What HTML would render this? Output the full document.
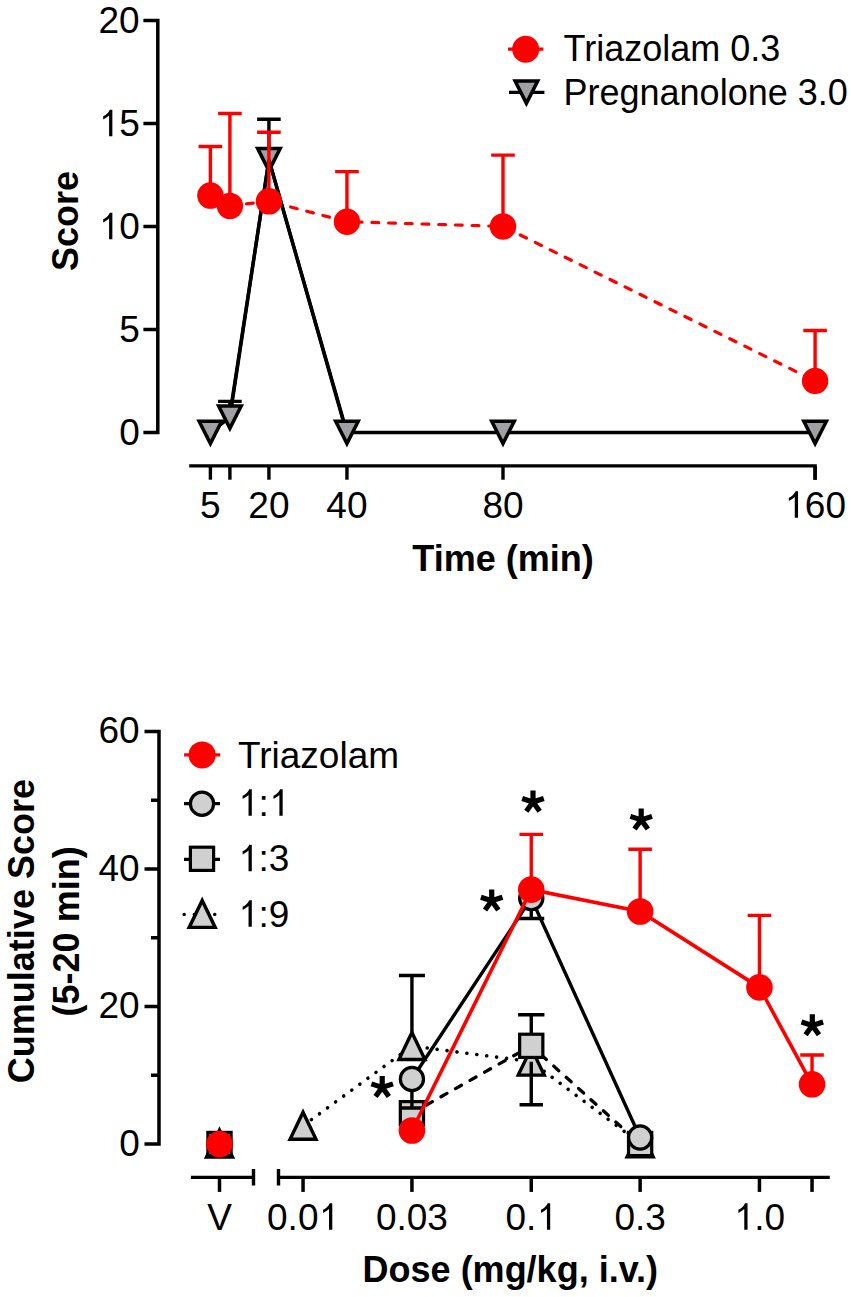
<!DOCTYPE html>
<html><head><meta charset="utf-8"><style>html,body{margin:0;padding:0;background:#fff;}svg{display:block;}</style></head>
<body>
<svg width="851" height="1297" viewBox="0 0 851 1297">
<rect width="851" height="1297" fill="#fff"/>
<path d="M143.4 20.399999999999977H157.8V432.5H143.4M143.4 123.42500000000001H157.8M143.4 226.45H157.8M143.4 329.475H157.8" fill="none" stroke="#000" stroke-width="3.5"/>
<text x="98.56" y="33.199999999999974" font-family="Liberation Sans, sans-serif" font-size="37">20</text>
<text x="98.56" y="136.22500000000002" font-family="Liberation Sans, sans-serif" font-size="37"><tspan fill="transparent">1</tspan>5</text><path d="M112.36 136.23H109.10V115.51C107.99 116.54 106.51 117.54 104.85 118.47C104.29 118.80 103.74 119.13 103.18 119.39V116.25C105.96 114.95 108.36 113.10 109.84 109.73H112.36Z" fill="#000"/>
<text x="98.56" y="239.25" font-family="Liberation Sans, sans-serif" font-size="37"><tspan fill="transparent">1</tspan>0</text><path d="M112.36 239.25H109.10V218.53C107.99 219.57 106.51 220.56 104.85 221.49C104.29 221.82 103.74 222.16 103.18 222.41V219.27C105.96 217.97 108.36 216.12 109.84 212.76H112.36Z" fill="#000"/>
<text x="119.13" y="342.27500000000003" font-family="Liberation Sans, sans-serif" font-size="37">5</text>
<text x="119.13" y="445.3" font-family="Liberation Sans, sans-serif" font-size="37">0</text>
<path d="M189.2 465.9H815.098V479.7" fill="none" stroke="#000" stroke-width="3.4"/>
<path d="M210.39649999999997 465.9V479.7" stroke="#000" stroke-width="3.4"/>
<path d="M229.903 465.9V479.7" stroke="#000" stroke-width="3.4"/>
<path d="M268.916 465.9V479.7" stroke="#000" stroke-width="3.4"/>
<path d="M346.942 465.9V479.7" stroke="#000" stroke-width="3.4"/>
<path d="M502.99399999999997 465.9V479.7" stroke="#000" stroke-width="3.4"/>
<path d="M815.098 465.9V479.7" stroke="#000" stroke-width="3.4"/>
<text x="200.11" y="517.8" font-family="Liberation Sans, sans-serif" font-size="37">5</text>
<text x="248.34" y="517.8" font-family="Liberation Sans, sans-serif" font-size="37">20</text>
<text x="326.37" y="517.8" font-family="Liberation Sans, sans-serif" font-size="37">40</text>
<text x="482.42" y="517.8" font-family="Liberation Sans, sans-serif" font-size="37">80</text>
<text x="784.24" y="517.8" font-family="Liberation Sans, sans-serif" font-size="37"><tspan fill="transparent">1</tspan>60</text><path d="M798.04 517.80H794.78V497.08C793.67 498.12 792.20 499.11 790.53 500.04C789.98 500.37 789.42 500.71 788.87 500.96V497.82C791.64 496.52 794.04 494.67 795.52 491.31H798.04Z" fill="#000"/>
<text x="503" y="570.5" font-family="Liberation Sans, sans-serif" font-size="36" font-weight="bold" text-anchor="middle">Time (min)</text>
<text transform="translate(78,221) rotate(-90)" font-family="Liberation Sans, sans-serif" font-size="36" font-weight="bold" text-anchor="middle">Score</text>
<polyline points="210.39649999999997,432.5 229.903,417.2523 268.916,159.6898 346.942,432.5 502.99399999999997,432.5 815.098,432.5" fill="none" stroke="#000" stroke-width="3.4"/>
<path d="M229.903 417.2523V401.38645M218.10299999999998 401.38645H241.703" stroke="#000" stroke-width="3.4"/>
<path d="M268.916 159.6898V119.30400000000003M257.116 119.30400000000003H280.716" stroke="#000" stroke-width="3.4"/>
<path d="M199.09649999999996 421.2H221.6965L210.39649999999997 443.6Z" fill="#a0a0a4" stroke="#000" stroke-width="3.5" stroke-linejoin="miter"/>
<path d="M218.60299999999998 405.9523H241.203L229.903 428.3523Z" fill="#a0a0a4" stroke="#000" stroke-width="3.5" stroke-linejoin="miter"/>
<path d="M257.616 148.38979999999998H280.216L268.916 170.78979999999999Z" fill="#a0a0a4" stroke="#000" stroke-width="3.5" stroke-linejoin="miter"/>
<path d="M335.642 421.2H358.242L346.942 443.6Z" fill="#a0a0a4" stroke="#000" stroke-width="3.5" stroke-linejoin="miter"/>
<path d="M491.69399999999996 421.2H514.294L502.99399999999997 443.6Z" fill="#a0a0a4" stroke="#000" stroke-width="3.5" stroke-linejoin="miter"/>
<path d="M803.798 421.2H826.3979999999999L815.098 443.6Z" fill="#a0a0a4" stroke="#000" stroke-width="3.5" stroke-linejoin="miter"/>
<polyline points="231.5,404 268.916,159.6898 342.7,419" fill="none" stroke="#000" stroke-width="3.4"/>
<path d="M210.40 195.54L229.90 205.84" fill="none" stroke="#ff0000" stroke-width="3.2" stroke-linecap="round" stroke-dasharray="6.8 9.9" stroke-dashoffset="0"/>
<path d="M229.90 205.84L268.92 201.31" fill="none" stroke="#ff0000" stroke-width="3.2" stroke-linecap="round" stroke-dasharray="6.8 9.9" stroke-dashoffset="0"/>
<path d="M268.92 201.31L346.94 221.71" fill="none" stroke="#ff0000" stroke-width="3.2" stroke-linecap="round" stroke-dasharray="6.8 9.9" stroke-dashoffset="11.0"/>
<path d="M346.94 221.71L502.99 226.45" fill="none" stroke="#ff0000" stroke-width="3.2" stroke-linecap="round" stroke-dasharray="6.8 9.9" stroke-dashoffset="8.4"/>
<path d="M502.99 226.45L815.10 380.99" fill="none" stroke="#ff0000" stroke-width="3.2" stroke-linecap="round" stroke-dasharray="6.8 9.9" stroke-dashoffset="14.1"/>
<path d="M210.39649999999997 195.5425V146.50259999999997M198.59649999999996 146.50259999999997H222.1965" stroke="#ff0000" stroke-width="3.4"/>
<path d="M229.903 205.845V113.53460000000001M218.10299999999998 113.53460000000001H241.703" stroke="#ff0000" stroke-width="3.4"/>
<path d="M268.916 201.31189999999998V132.28515M257.116 132.28515H280.716" stroke="#ff0000" stroke-width="3.4"/>
<path d="M346.942 221.71085V171.64069999999998M335.142 171.64069999999998H358.742" stroke="#ff0000" stroke-width="3.4"/>
<path d="M502.99399999999997 226.45V155.1567M491.19399999999996 155.1567H514.794" stroke="#ff0000" stroke-width="3.4"/>
<path d="M815.098 380.9875V330.50525M803.298 330.50525H826.8979999999999" stroke="#ff0000" stroke-width="3.4"/>
<circle cx="210.39649999999997" cy="195.5425" r="13.2" fill="#ff0000"/>
<circle cx="229.903" cy="205.845" r="13.2" fill="#ff0000"/>
<circle cx="268.916" cy="201.31189999999998" r="13.2" fill="#ff0000"/>
<circle cx="346.942" cy="221.71085" r="13.2" fill="#ff0000"/>
<circle cx="502.99399999999997" cy="226.45" r="13.2" fill="#ff0000"/>
<circle cx="815.098" cy="380.9875" r="13.2" fill="#ff0000"/>
<path d="M508 49.2H543.4" stroke="#ff0000" stroke-width="3.2"/><circle cx="525.7" cy="49.2" r="13.5" fill="#ff0000"/>
<path d="M509 92.3H544.4" stroke="#000" stroke-width="3.2"/><path d="M515.1 80.95H537.6999999999999L526.4 103.35Z" fill="#a0a0a4" stroke="#000" stroke-width="3.5" stroke-linejoin="miter"/>
<text x="563.5" y="61.2" font-family="Liberation Sans, sans-serif" font-size="36">Triazolam 0.3</text>
<text x="563.5" y="104.6" font-family="Liberation Sans, sans-serif" font-size="36">Pregnanolone 3.0</text>
<path d="M144.5 731.5H159V1144.0H144.5M144.5 869.0H159M144.5 1006.5H159M151 800.25H159M151 937.75H159M151 1075.25H159" fill="none" stroke="#000" stroke-width="3.5"/>
<text x="98.56" y="743.3" font-family="Liberation Sans, sans-serif" font-size="37">60</text>
<text x="98.56" y="880.8" font-family="Liberation Sans, sans-serif" font-size="37">40</text>
<text x="98.56" y="1018.3" font-family="Liberation Sans, sans-serif" font-size="37">20</text>
<text x="119.13" y="1155.8" font-family="Liberation Sans, sans-serif" font-size="37">0</text>
<path d="M190.9 1177.4H253.5M253.5 1169.1V1185.6M278.5 1169.1V1185.6M278.5 1177.4H829.8" fill="none" stroke="#000" stroke-width="3.4"/>
<path d="M219.5 1177.4V1191.9" stroke="#000" stroke-width="3.5"/>
<path d="M303.05000000000007 1177.4V1191.9" stroke="#000" stroke-width="3.5"/>
<path d="M411.92907032702703 1177.4V1191.9" stroke="#000" stroke-width="3.5"/>
<path d="M531.25 1177.4V1191.9" stroke="#000" stroke-width="3.5"/>
<path d="M640.129070327027 1177.4V1191.9" stroke="#000" stroke-width="3.5"/>
<path d="M759.45 1177.4V1191.9" stroke="#000" stroke-width="3.5"/>
<path d="M812.0384438585221 1177.4V1191.9" stroke="#000" stroke-width="3.5"/>
<text x="207.16" y="1229.8" font-family="Liberation Sans, sans-serif" font-size="37">V</text>
<text x="267.05" y="1229.8" font-family="Liberation Sans, sans-serif" font-size="37">0.0<tspan fill="transparent">1</tspan></text><path d="M332.28 1229.80H329.02V1209.08C327.91 1210.12 326.43 1211.12 324.77 1212.04C324.21 1212.37 323.66 1212.71 323.10 1212.96V1209.82C325.88 1208.52 328.28 1206.67 329.76 1203.31H332.28Z" fill="#000"/>
<text x="375.93" y="1229.8" font-family="Liberation Sans, sans-serif" font-size="37">0.03</text>
<text x="505.53" y="1229.8" font-family="Liberation Sans, sans-serif" font-size="37">0.<tspan fill="transparent">1</tspan></text><path d="M550.19 1229.80H546.94V1209.08C545.83 1210.12 544.35 1211.12 542.68 1212.04C542.13 1212.37 541.57 1212.71 541.02 1212.96V1209.82C543.79 1208.52 546.20 1206.67 547.68 1203.31H550.19Z" fill="#000"/>
<text x="614.41" y="1229.8" font-family="Liberation Sans, sans-serif" font-size="37">0.3</text>
<text x="733.74" y="1229.8" font-family="Liberation Sans, sans-serif" font-size="37"><tspan fill="transparent">1</tspan>.0</text><path d="M747.54 1229.80H744.28V1209.08C743.17 1210.12 741.69 1211.12 740.02 1212.04C739.47 1212.37 738.91 1212.71 738.36 1212.96V1209.82C741.13 1208.52 743.54 1206.67 745.02 1203.31H747.54Z" fill="#000"/>
<text x="510.3" y="1282" font-family="Liberation Sans, sans-serif" font-size="36" font-weight="bold" text-anchor="middle">Dose (mg/kg, i.v.)</text>
<text transform="translate(33.9,931.1) rotate(-90)" font-family="Liberation Sans, sans-serif" font-size="36" font-weight="bold" text-anchor="middle">Cumulative Score</text>
<text transform="translate(79,931.4) rotate(-90)" font-family="Liberation Sans, sans-serif" font-size="36" font-weight="bold" text-anchor="middle">(5-20 min)</text>
<path d="M303.05 1125.78L411.93 1046.03" fill="none" stroke="#000" stroke-width="3.6" stroke-dasharray="0.01 9.99" stroke-linecap="round" stroke-dashoffset="9.6"/><path d="M411.93 1046.03L531.25 1061.64" fill="none" stroke="#000" stroke-width="3.6" stroke-dasharray="0.01 9.99" stroke-linecap="round" stroke-dashoffset="4.6"/><path d="M531.25 1061.64L640.13 1143.31" fill="none" stroke="#000" stroke-width="3.6" stroke-dasharray="0.01 9.99" stroke-linecap="round" stroke-dashoffset="3.9"/>
<path d="M411.93 1113.20L531.25 1045.83" fill="none" stroke="#000" stroke-width="3.3" stroke-dasharray="6.8 9.9" stroke-linecap="round" stroke-dashoffset="0"/><path d="M531.25 1045.83L640.13 1144.00" fill="none" stroke="#000" stroke-width="3.3" stroke-dasharray="6.8 9.9" stroke-linecap="round" stroke-dashoffset="3.11"/>
<polyline points="411.92907032702703,1079.03125 531.25,898.2875 640.129070327027,1137.46875" fill="none" stroke="#000" stroke-width="3.4"/>
<path d="M411.92907032702703 1046.03125V975.425M398.92907032702703 975.425H424.92907032702703" stroke="#000" stroke-width="3.4"/>
<path d="M219.5 1130.15625L232.5 1157.15625H206.5Z" fill="#d0d0d0" stroke="#000" stroke-width="3.4" stroke-linejoin="miter" stroke-miterlimit="3"/>
<path d="M303.05000000000007 1112.28125L316.05000000000007 1139.28125H290.05000000000007Z" fill="#d0d0d0" stroke="#000" stroke-width="3.4" stroke-linejoin="miter" stroke-miterlimit="3"/>
<path d="M411.92907032702703 1032.53125L424.92907032702703 1059.53125H398.92907032702703Z" fill="#d0d0d0" stroke="#000" stroke-width="3.4" stroke-linejoin="miter" stroke-miterlimit="3"/>
<path d="M531.25 1048.1375L544.25 1075.1375H518.25Z" fill="#d0d0d0" stroke="#000" stroke-width="3.4" stroke-linejoin="miter" stroke-miterlimit="3"/>
<path d="M640.129070327027 1129.8125L653.129070327027 1156.8125H627.129070327027Z" fill="#d0d0d0" stroke="#000" stroke-width="3.4" stroke-linejoin="miter" stroke-miterlimit="3"/>
<path d="M531.25 1061.6375V1104.675M519.55 1104.675H542.95" stroke="#000" stroke-width="3.4"/>
<path d="M531.25 1045.825V1014.81875M518.05 1014.81875H544.45" stroke="#000" stroke-width="3.4"/>
<rect x="207.9" y="1132.4" width="23.2" height="23.2" fill="#d0d0d0" stroke="#000" stroke-width="3.2"/>
<rect x="400.329070327027" y="1101.6000000000001" width="23.2" height="23.2" fill="#d0d0d0" stroke="#000" stroke-width="3.2"/>
<rect x="519.65" y="1034.2250000000001" width="23.2" height="23.2" fill="#d0d0d0" stroke="#000" stroke-width="3.2"/>
<rect x="628.529070327027" y="1132.4" width="23.2" height="23.2" fill="#d0d0d0" stroke="#000" stroke-width="3.2"/>
<path d="M411.92907032702703 1079.03125V1107.975M398.92907032702703 1107.975H424.92907032702703" stroke="#000" stroke-width="3.4"/>
<path d="M531.25 898.2875V918.5M518.25 918.5H544.25" stroke="#000" stroke-width="3.4"/>
<circle cx="219.5" cy="1144.0" r="11.6" fill="#d0d0d0" stroke="#000" stroke-width="3.2"/>
<circle cx="411.92907032702703" cy="1079.03125" r="11.6" fill="#d0d0d0" stroke="#000" stroke-width="3.2"/>
<circle cx="531.25" cy="898.2875" r="11.6" fill="#d0d0d0" stroke="#000" stroke-width="3.2"/>
<circle cx="640.129070327027" cy="1137.46875" r="11.6" fill="#d0d0d0" stroke="#000" stroke-width="3.2"/>
<polyline points="411.92907032702703,1130.525 531.25,889.625 640.129070327027,911.4875 759.45,987.3875 812.0384438585221,1084.325" fill="none" stroke="#ff0000" stroke-width="3.6"/>
<path d="M531.25 889.625V834.41875M519.45 834.41875H543.05" stroke="#ff0000" stroke-width="3.4"/>
<path d="M640.129070327027 911.4875V849.2M628.329070327027 849.2H651.9290703270269" stroke="#ff0000" stroke-width="3.4"/>
<path d="M759.45 987.3875V915.40625M747.6500000000001 915.40625H771.25" stroke="#ff0000" stroke-width="3.4"/>
<path d="M812.0384438585221 1084.325V1054.96875M800.2384438585221 1054.96875H823.838443858522" stroke="#ff0000" stroke-width="3.4"/>
<circle cx="219.5" cy="1144.0" r="13.3" fill="#ff0000"/>
<circle cx="411.92907032702703" cy="1130.525" r="13.3" fill="#ff0000"/>
<circle cx="531.25" cy="889.625" r="13.3" fill="#ff0000"/>
<circle cx="640.129070327027" cy="911.4875" r="13.3" fill="#ff0000"/>
<circle cx="759.45" cy="987.3875" r="13.3" fill="#ff0000"/>
<circle cx="812.0384438585221" cy="1084.325" r="13.3" fill="#ff0000"/>
<path d="M533.00 801.97L533.00 790.60M533.00 801.97L543.81 798.46M533.00 801.97L539.68 811.17M533.00 801.97L526.32 811.17M533.00 801.97L522.19 798.46" stroke="#000" stroke-width="5.2" stroke-linecap="butt"/><circle cx="533" cy="801.97" r="2.8600000000000003" fill="#000"/>
<path d="M641.20 819.87L641.20 808.50M641.20 819.87L652.01 816.36M641.20 819.87L647.88 829.07M641.20 819.87L634.52 829.07M641.20 819.87L630.39 816.36" stroke="#000" stroke-width="5.2" stroke-linecap="butt"/><circle cx="641.2" cy="819.87" r="2.8600000000000003" fill="#000"/>
<path d="M491.70 900.77L491.70 889.40M491.70 900.77L502.51 897.26M491.70 900.77L498.38 909.97M491.70 900.77L485.02 909.97M491.70 900.77L480.89 897.26" stroke="#000" stroke-width="5.2" stroke-linecap="butt"/><circle cx="491.7" cy="900.77" r="2.8600000000000003" fill="#000"/>
<path d="M382.20 1087.37L382.20 1076.00M382.20 1087.37L393.01 1083.86M382.20 1087.37L388.88 1096.57M382.20 1087.37L375.52 1096.57M382.20 1087.37L371.39 1083.86" stroke="#000" stroke-width="5.2" stroke-linecap="butt"/><circle cx="382.2" cy="1087.37" r="2.8600000000000003" fill="#000"/>
<path d="M812.30 1025.57L812.30 1014.20M812.30 1025.57L823.11 1022.06M812.30 1025.57L818.98 1034.77M812.30 1025.57L805.62 1034.77M812.30 1025.57L801.49 1022.06" stroke="#000" stroke-width="5.2" stroke-linecap="butt"/><circle cx="812.3" cy="1025.57" r="2.8600000000000003" fill="#000"/>
<path d="M184.1 754.9H220.2" stroke="#ff0000" stroke-width="3.2"/><circle cx="202.1" cy="754.9" r="13.5" fill="#ff0000"/>
<path d="M184 803.7H220" stroke="#000" stroke-width="3.2"/><circle cx="202" cy="803.7" r="11.6" fill="#d0d0d0" stroke="#000" stroke-width="3.2"/>
<path d="M184 859.3H220" stroke="#000" stroke-width="3.2"/><rect x="190.4" y="847.1999999999999" width="23.2" height="23.2" fill="#d0d0d0" stroke="#000" stroke-width="3.2"/>
<path d="M184 914.4H220" stroke="#000" stroke-width="3.2" stroke-dasharray="0.3 9.9" stroke-linecap="round"/><path d="M202.2 900.4L215.2 927.4H189.2Z" fill="#d0d0d0" stroke="#000" stroke-width="3.4" stroke-linejoin="miter" stroke-miterlimit="3"/>
<text x="238" y="767.6" font-family="Liberation Sans, sans-serif" font-size="37">Triazolam</text>
<text x="238.00" y="815.7" font-family="Liberation Sans, sans-serif" font-size="37"><tspan fill="transparent">1</tspan>:<tspan fill="transparent">1</tspan></text><path d="M251.80 815.70H248.54V794.98C247.44 796.02 245.96 797.02 244.29 797.94C243.74 798.27 243.18 798.61 242.62 798.87V795.72C245.40 794.43 247.81 792.58 249.28 789.21H251.80ZM282.66 815.70H279.40V794.98C278.29 796.02 276.81 797.02 275.15 797.94C274.59 798.27 274.04 798.61 273.48 798.87V795.72C276.26 794.43 278.66 792.58 280.14 789.21H282.66Z" fill="#000"/>
<text x="238.00" y="871.3" font-family="Liberation Sans, sans-serif" font-size="37"><tspan fill="transparent">1</tspan>:3</text><path d="M251.80 871.30H248.54V850.58C247.44 851.62 245.96 852.62 244.29 853.54C243.74 853.87 243.18 854.21 242.62 854.46V851.32C245.40 850.02 247.81 848.17 249.28 844.81H251.80Z" fill="#000"/>
<text x="238.00" y="926.7" font-family="Liberation Sans, sans-serif" font-size="37"><tspan fill="transparent">1</tspan>:9</text><path d="M251.80 926.70H248.54V905.98C247.44 907.02 245.96 908.02 244.29 908.94C243.74 909.27 243.18 909.61 242.62 909.87V906.72C245.40 905.43 247.81 903.58 249.28 900.21H251.80Z" fill="#000"/>
</svg>
</body></html>
